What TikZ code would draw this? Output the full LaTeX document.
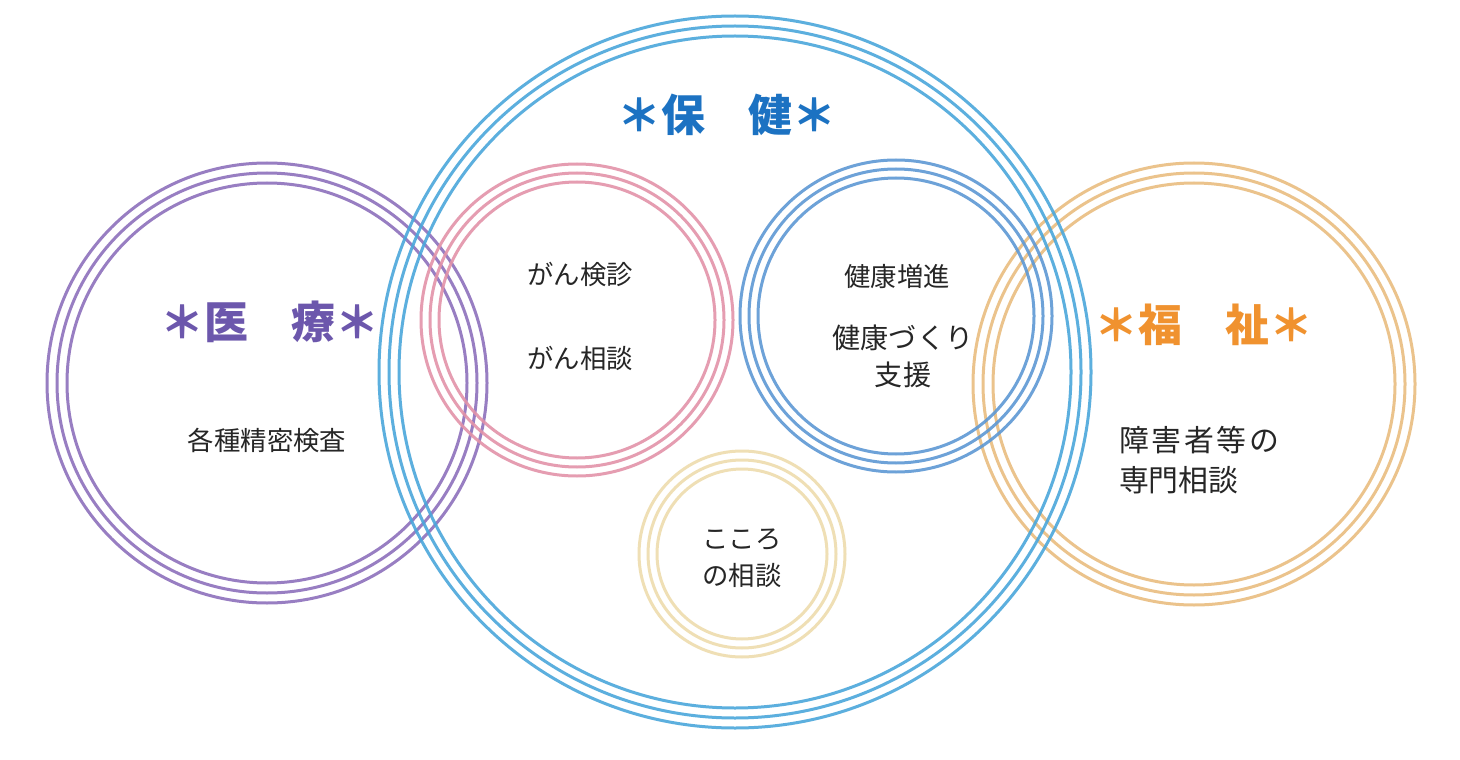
\documentclass[tikz,border=0pt]{standalone}
\usepackage{fontspec}
\setmainfont{Noto Sans CJK JP}
\usetikzlibrary{positioning}
\definecolor{hokenblue}{HTML}{4BA7DB}
\definecolor{iryopurple}{HTML}{8D70BC}
\definecolor{ganpink}{HTML}{E393A9}
\definecolor{kenkoblue}{HTML}{5E98D4}
\definecolor{fukushitan}{HTML}{E9BD80}
\definecolor{kokoroyellow}{HTML}{EEDCAD}
\definecolor{titleblue}{HTML}{1C72C2}
\definecolor{titlepurple}{HTML}{6C57AC}
\definecolor{titleorange}{HTML}{F0922F}
\begin{document}
\begin{tikzpicture}[x=0.02cm, y=-0.02cm,
    ring/.style={line width=0.06cm, draw opacity=0.9},
    body/.style={font=\fontsize{15pt}{21pt}\selectfont, text=black!85, align=center},
    title/.style={font=\bfseries\fontsize{25pt}{30pt}\selectfont}]
    \useasboundingbox (0,0) rectangle (1460,760);
    \fill[white] (0,0) rectangle (1460,760);

    % rings: centre x / centre y / outer radius / gap / colour
    \foreach \cx/\cy/\r/\g/\col in {267/383/220/10/iryopurple, 1194/384/221/10/fukushitan,
        735/372/356/10/hokenblue, 577/320/156/9/ganpink, 896/316/156/9/kenkoblue,
        742/554/103/9/kokoroyellow}
        \foreach \d in {0,1,2}
            \draw[ring, \col] (\cx,\cy) circle[radius=\r-\d*\g];

    \node[title, text=titleblue] (hoken) at (727,115) {＊保　健＊};
    \node[title, text=titlepurple] (iryo) at (270,322) {＊医　療＊};
    \node[title, text=titleorange] (fukushi) at (1204,325) {＊福　祉＊};

    \node[body] (seimitsu) at (267,440) {各種精密検査};
    \node[body] (kenshin) at (580,274) {がん検診};
    \node[body] (gansodan) at (580,358) {がん相談};
    \node[body] (zoshin) at (897,277) {健康増進};
    \node[body, font=\fontsize{16pt}{21pt}\selectfont] (shien) at (903,356) {健康づくり\\支援};
    \node[body] (kokoro) at (742,558) {こころ\\の相談};
    \node[body, align=left, font=\fontsize{17pt}{23pt}\selectfont] (senmon) at (1199,460)
        {障\kern1.5pt 害\kern1.5pt 者\kern1.5pt 等\kern1.5pt の\\専門相談};
\end{tikzpicture}
\end{document}
